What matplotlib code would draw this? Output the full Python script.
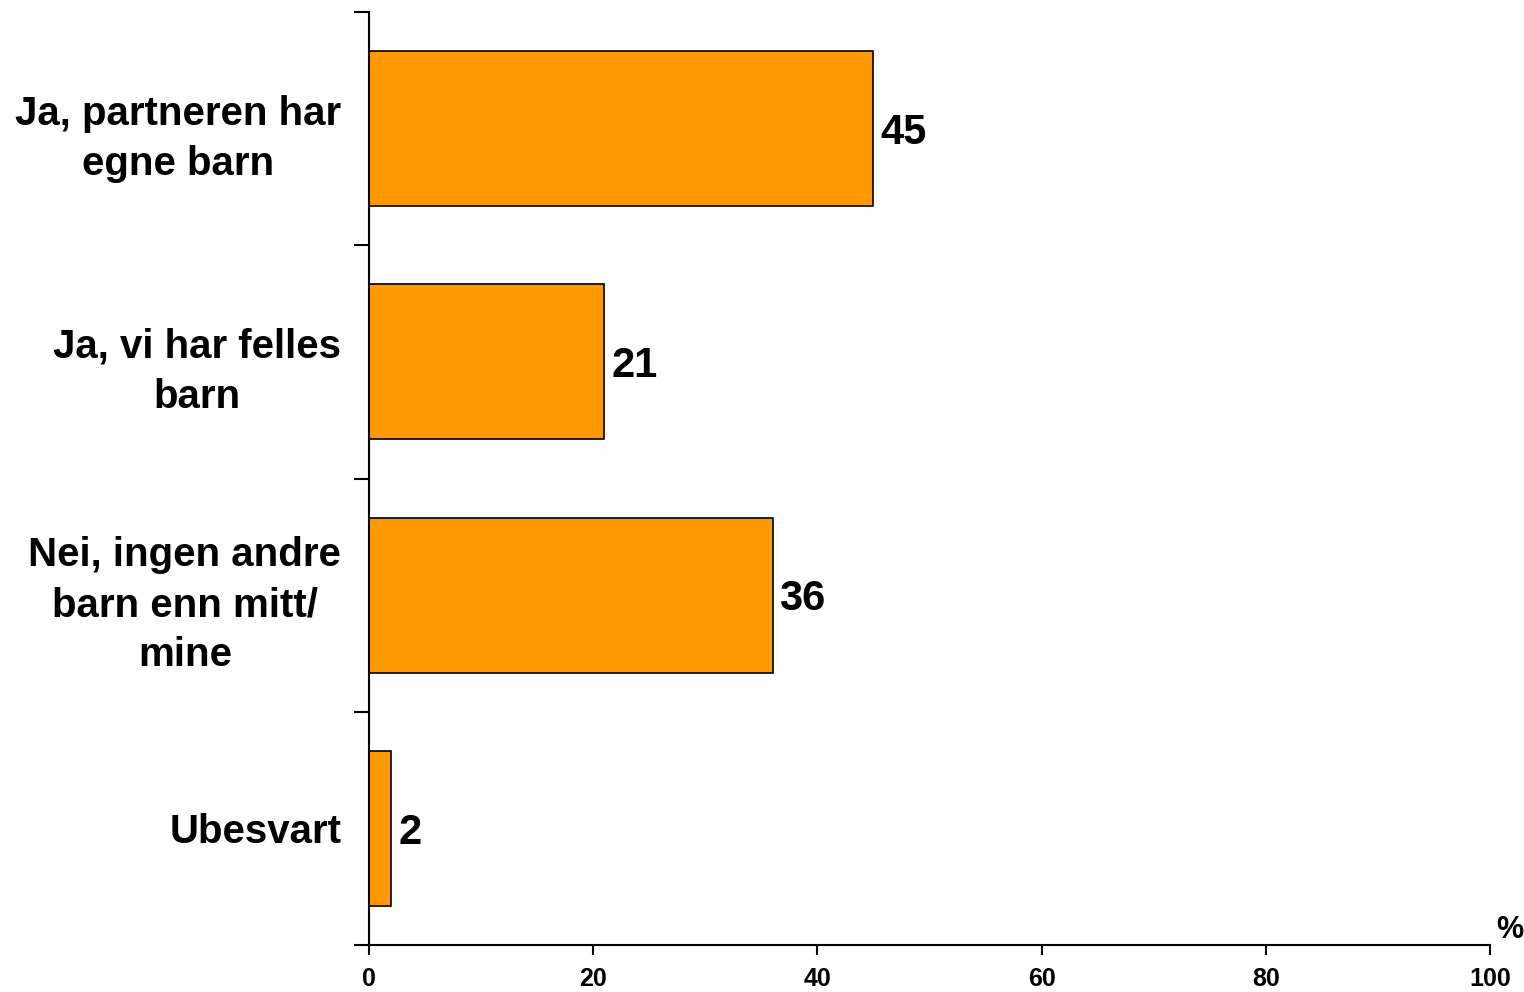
import matplotlib.pyplot as plt

categories = ["Ja, partneren har\negne barn", "Ja, vi har felles\nbarn",
              "Nei, ingen andre\nbarn enn mitt/\nmine", "Ubesvart"]
values = [45, 21, 36, 2]
xticks = [0, 20, 40, 60, 80, 100]

plt.rcParams["font.family"] = ["Liberation Sans", "DejaVu Sans"]
plt.rcParams["font.weight"] = "bold"

fig = plt.figure(figsize=(15.24, 9.92), dpi=100)
ax = fig.add_axes([369 / 1524, 47 / 992, 1121 / 1524, 933 / 992])

pos = list(range(len(values)))
ax.barh(pos, values, height=0.665, color="#FF9900", edgecolor="black", linewidth=1.2)
ax.set_ylim(len(values) - 0.5, -0.5)
ax.set_xlim(0, 100)

for p, v in zip(pos, values):
    ax.annotate(str(v), (v, p), xytext=(5, -3), textcoords="offset points",
                va="center", ha="left", fontsize=30, fontweight="bold")

ax.set_yticks([p - 0.5 for p in pos] + [len(values) - 0.5])
ax.set_yticklabels([])
ax.set_yticks(pos, minor=True)
ax.set_yticklabels(categories, minor=True, fontsize=29, fontweight="bold",
                   multialignment="center", linespacing=1.4)
ax.tick_params(axis="y", which="major", length=11, width=1.5, direction="out")
ax.tick_params(axis="y", which="minor", length=0, pad=20)

ax.set_xticks(xticks)
ax.set_xticklabels([str(t) for t in xticks], fontsize=18, fontweight="bold")
ax.tick_params(axis="x", length=7, width=1.5, direction="out", pad=9)

for s in ["top", "right"]:
    ax.spines[s].set_visible(False)
for s in ["left", "bottom"]:
    ax.spines[s].set_linewidth(1.5)

ax.text(1.018, 0.0, "%", transform=ax.transAxes, ha="center", va="bottom",
        fontsize=22, fontweight="bold")

fig.savefig("out.png", dpi=100)
